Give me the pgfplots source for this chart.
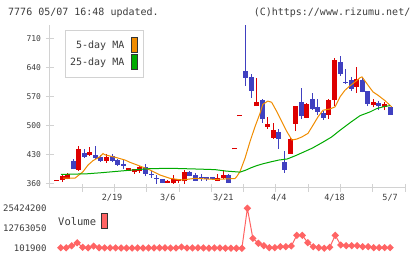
\documentclass[border=0pt]{standalone}
\usepackage{fontspec}
\setmainfont{DejaVu Sans Mono}
\setmonofont{DejaVu Sans Mono}
\usepackage{pgfplots}
\usepackage{pgfplotstable}
\pgfplotsset{compat=1.18}

\definecolor{candlered}{RGB}{221,0,0}
\definecolor{candleblue}{RGB}{64,64,192}
\definecolor{maorange}{RGB}{240,140,0}
\definecolor{magreen}{RGB}{0,170,0}
\definecolor{volpink}{RGB}{255,100,100}
\definecolor{axisgray}{RGB}{210,210,210}
\definecolor{txt}{RGB}{60,60,60}

% candles: i open high low close
\pgfplotstableread{
i  o   h   l   c
0  366 366 366 366
1  369 382 365 380
2  373 387 371 385
4  394 451 392 444
6  429 448 428 436
9  416 432 411 424
13 392 399 391 398
14 389 396 384 395
15 392 402 387 400
20 363 369 362 368
21 363 381 361 373
22 368 373 363 372
23 366 394 361 389
29 368 384 367 374
30 374 394 373 382
32 443 443 443 443
33 522 522 522 522
36 547 615 547 557
38 497 521 492 504
39 471 506 468 489
42 433 470 433 468
43 505 548 487 548
45 519 555 518 553
49 526 564 516 561
50 562 663 548 657
54 593 641 579 612
57 549 564 544 557
59 545 556 537 551
}\upcandles

\pgfplotstableread{
i  o   h   l   c
3  416 419 395 395
5  435 443 423 425
7  429 451 419 422
8  425 429 413 416
10 428 432 412 415
11 417 419 403 406
12 407 417 395 404
16 401 408 379 384
17 384 390 375 382
18 375 381 361 372
19 372 373 362 363
24 389 391 378 380
25 381 387 367 368
26 376 383 368 374
27 376 377 368 371
28 376 377 369 371
31 382 383 362 363
34 631 741 596 615
35 616 624 567 584
37 561 565 507 515
40 485 492 444 468
41 413 439 387 394
44 556 590 516 524
46 564 578 537 541
47 545 564 525 533
48 531 535 514 519
51 653 667 619 624
52 604 636 601 602
53 609 616 583 588
55 609 616 580 581
56 583 584 547 552
58 555 559 537 547
60 545 545 525 525
}\downcandles

\pgfplotstableread{
i  v
0  450000
1  400000
2  1700000
3  3600000
4  750000
5  400000
6  1500000
7  450000
8  400000
9  400000
10 400000
11 300000
12 250000
13 250000
14 350000
15 250000
16 350000
17 350000
18 400000
19 350000
20 250000
21 250000
22 900000
23 300000
24 350000
25 400000
26 350000
27 200000
28 350000
29 300000
30 150000
31 150000
32 120000
33 101900
34 25424200
35 6400000
36 3300000
37 1750000
38 500000
39 500000
40 1100000
41 1100000
42 1550000
43 8300000
44 8300000
45 3650000
46 1100000
47 500000
48 150000
49 750000
50 8300000
51 2200000
52 1750000
53 1750000
54 1750000
55 1100000
56 1100000
57 500000
58 500000
59 500000
60 500000
}\volume

\begin{document}
\begin{tikzpicture}[x=1pt,y=1pt]
\path[use as bounding box] (0,0) rectangle (420,259);

\node[anchor=west, font=\fontsize{10}{10}\selectfont, text=txt, inner sep=0pt] at (8,246.3) {7776 05/07 16:48 updated.};
\node[anchor=east, font=\fontsize{10}{10}\selectfont, text=txt, inner sep=0pt] at (410.5,246.3) {(C)https://www.rizumu.net/};

\begin{axis}[
  at={(50pt,71pt)}, anchor=south west,
  scale only axis, width=355pt, height=163pt,
  xmin=-1.169, xmax=62.68, ymin=350.4, ymax=741.5,
  axis x line*=bottom, axis y line*=left,
  axis line style={draw=axisgray, line width=1pt, -},
  tick style={draw=axisgray, line width=1pt},
  major tick length=8pt, tick align=center,
  ytick={360,430,500,570,640,710},
  xtick={4.635,10.44,16.24,22.05,27.85,33.66,39.46,45.27,51.07,56.87,62.68},
  xticklabels={},
  extra x ticks={10,20,30,40,50,60},
  extra x tick labels={2/19,3/6,3/21,4/4,4/18,5/7},
  extra x tick style={major tick length=0pt, tick label style={yshift=-3pt}},
  /pgf/number format/assume math mode=true,
  yticklabel style={font=\fontsize{8}{8}\selectfont, text=txt, xshift=-1.5pt},
  xticklabel style={font=\fontsize{8.5}{8.5}\selectfont, text=txt},
]
% wicks
\addplot[draw=none, mark=none, forget plot,
  error bars/.cd, y dir=plus, y explicit, error mark=none,
  error bar style={draw=candlered, line width=1pt}]
  table[x=i, y=l, y error expr=\thisrow{h}-\thisrow{l}] {\upcandles};
\addplot[draw=none, mark=none, forget plot,
  error bars/.cd, y dir=plus, y explicit, error mark=none,
  error bar style={draw=candleblue, line width=1pt}]
  table[x=i, y=l, y error expr=\thisrow{h}-\thisrow{l}] {\downcandles};
% bodies
\addplot[draw=none, mark=none, forget plot,
  error bars/.cd, y dir=plus, y explicit, error mark=none,
  error bar style={draw=candlered, line width=5pt}]
  table[x=i, y expr={min(\thisrow{o},\thisrow{c})},
        y error expr={max(abs(\thisrow{c}-\thisrow{o}),2.4)}] {\upcandles};
\addplot[draw=none, mark=none, forget plot,
  error bars/.cd, y dir=plus, y explicit, error mark=none,
  error bar style={draw=candleblue, line width=5pt}]
  table[x=i, y expr={min(\thisrow{o},\thisrow{c})},
        y error expr={max(abs(\thisrow{c}-\thisrow{o}),2.4)}] {\downcandles};
% 5-day MA
\addplot[color=maorange, line width=1pt, mark=none] coordinates {
(1.17,374) (3.33,374) (4.77,389.5) (5.67,405.5) (6.56,416) (7.82,425.5)
(8.36,433) (8.72,430) (10.88,423) (12.32,417.5) (13.22,412) (15.02,403)
(16.82,393.6) (18.62,381.6) (20.41,373.6) (22.57,369.6) (24.91,373.6)
(28.5,371) (32.1,373) (32.4,377.5) (33.0,389.6) (33.9,421.6) (34.8,461.5)
(35.7,497.5) (36.6,529.5) (37.1,551) (38.0,559) (38.7,556) (39.65,533)
(40.55,509) (41.46,485) (42.36,465.5) (43.26,468) (44.15,473) (45.23,481.5)
(46.13,501) (47.03,521) (47.93,537) (49.19,540) (50.09,545) (50.99,569)
(51.89,585) (52.79,595.6) (53.69,605) (54.59,615) (54.95,617) (56.03,597)
(56.92,581) (57.82,573) (59.08,560) (60.29,545)
};
% 25-day MA
\addplot[color=magreen, line width=1pt, mark=none] coordinates {
(0.81,383) (5.5,384.5) (8,387) (11,390.5) (14,394) (17,397) (21,397.5)
(25,396) (28.5,394.5) (30.5,391) (33,388.5) (34,393) (35,399) (36,404)
(37,408) (38.5,413) (40,417.5) (41.5,420) (43,428) (44.5,437) (46,446)
(48,461) (49.5,473) (51,489) (53,509) (54.6,524) (56.4,533) (57.6,541)
(59,546) (60,548)
};
\end{axis}

% legend of the price panel
\draw[draw=axisgray, fill=white, line width=0.8pt] (65.7,228.3) rectangle (143.3,181.7);
\node[anchor=east, font=\fontsize{10}{10}\selectfont, text=txt, inner sep=0pt] at (124.5,213.3) {5-day MA};
\node[anchor=east, font=\fontsize{10}{10}\selectfont, text=txt, inner sep=0pt] at (124.5,196.3) {25-day MA};
\draw[draw=black!80, fill=maorange, line width=0.8pt] (131,221.5) rectangle (137,207);
\draw[draw=black!80, fill=magreen, line width=0.8pt] (131,204.5) rectangle (137,189.5);

\begin{axis}[
  at={(50pt,4pt)}, anchor=south west,
  scale only axis, width=355pt, height=55pt,
  xmin=-1.949, xmax=62.71, ymin=-4140000, ymax=30680000,
  axis line style={draw=none}, tick style={draw=none},
  xtick=\empty, scaled y ticks=false,
  ytick={101900,12763050,25424200},
  yticklabels={101900,12763050,25424200},
  yticklabel style={font=\fontsize{9}{9}\selectfont, text=txt},
  clip=false,
]
\addplot[color=volpink, line width=1pt, mark=square*, mark size=2.1pt,
  mark options={rotate=45, fill=volpink, draw=volpink}]
  table[x=i, y=v] {\volume};
\end{axis}

\node[anchor=west, font=\fontsize{10.5}{10.5}\selectfont, text=txt, inner sep=0pt] at (58,37.3) {Volume};
\draw[draw=black!80, fill=volpink, line width=0.8pt] (101,46) rectangle (107,31);
\end{tikzpicture}
\end{document}
